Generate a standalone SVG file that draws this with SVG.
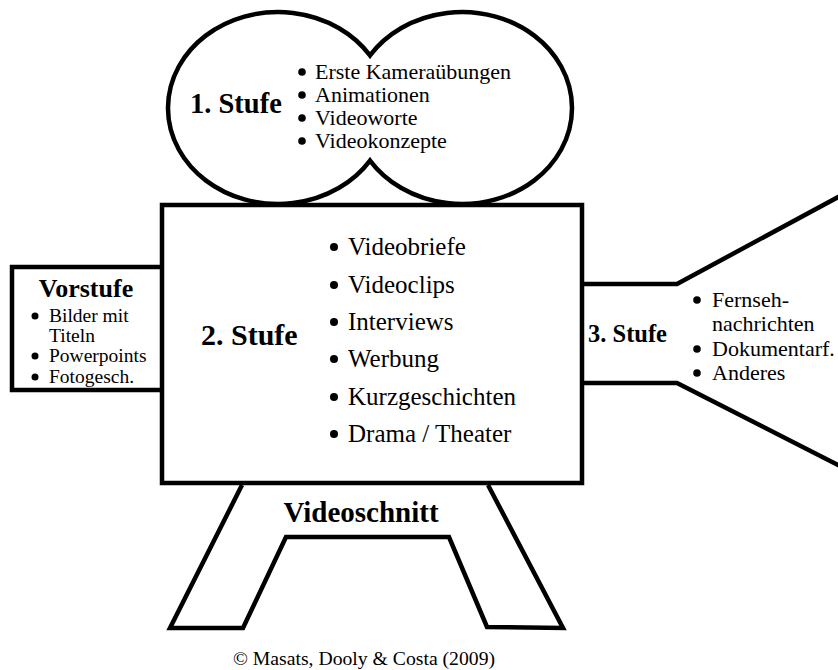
<svg xmlns="http://www.w3.org/2000/svg" width="838" height="670" viewBox="0 0 838 670">
<style>
.ln{fill:none;stroke:#000;stroke-width:4.5;stroke-linejoin:miter}
.sh{fill:#fff;stroke:#000;stroke-width:4.5}
text{font-family:"Liberation Serif","Times New Roman",serif;fill:#000}
.h{font-weight:bold}
.b{fill:#000}
</style>
<rect width="838" height="670" fill="#fff"/>
<g id="stufe1">
<path class="sh" d="M370,55.4 A110,96 0 1,0 370,160.6 A110,96 0 1,0 370,55.4 Z"/>
<text class="h" x="190" y="113" font-size="28.5">1. Stufe</text>
<g font-size="22">
<circle class="b" cx="302" cy="72" r="3.8"/><text x="315" y="79">Erste Kameraübungen</text>
<circle class="b" cx="302" cy="95" r="3.8"/><text x="315" y="102">Animationen</text>
<circle class="b" cx="302" cy="118" r="3.8"/><text x="315" y="125">Videoworte</text>
<circle class="b" cx="302" cy="141" r="3.8"/><text x="315" y="148">Videokonzepte</text>
</g>
</g>
<g id="vorstufe">
<path class="ln" d="M162,267 H12 V390 H162"/>
<text class="h" x="86" y="297" font-size="26" text-anchor="middle">Vorstufe</text>
<g font-size="19.5">
<circle class="b" cx="35" cy="316" r="3.5"/><text x="49" y="322">Bilder mit</text>
<text x="49" y="342">Titeln</text>
<circle class="b" cx="35" cy="356" r="3.5"/><text x="49" y="362">Powerpoints</text>
<circle class="b" cx="35" cy="377" r="3.5"/><text x="49" y="383">Fotogesch.</text>
</g>
</g>
<g id="stufe3">
<path class="ln" d="M582,284 H677 L840,196"/>
<path class="ln" d="M582,383 H677 L840,466"/>
<text class="h" x="588" y="342" font-size="24.5">3. Stufe</text>
<g font-size="22">
<circle class="b" cx="697" cy="300" r="3.8"/><text x="712" y="307">Fernseh-</text>
<text x="712" y="331">nachrichten</text>
<circle class="b" cx="697" cy="349" r="3.8"/><text x="712" y="356">Dokumentarf.</text>
<circle class="b" cx="697" cy="373" r="3.8"/><text x="712" y="380">Anderes</text>
</g>
</g>
<g id="videoschnitt">
<path class="ln" d="M242,485 L170,628 H243 L286,537 H449 L487,627 L563,628 L488,485"/>
<text class="h" x="361" y="522" font-size="29" text-anchor="middle">Videoschnitt</text>
</g>
<g id="stufe2">
<rect class="ln" x="162" y="205" width="420" height="278"/>
<text class="h" x="201" y="345" font-size="30">2. Stufe</text>
<g font-size="25">
<circle class="b" cx="334" cy="247" r="4"/><text x="348" y="255">Videobriefe</text>
<circle class="b" cx="334" cy="285" r="4"/><text x="348" y="293">Videoclips</text>
<circle class="b" cx="334" cy="322" r="4"/><text x="348" y="330">Interviews</text>
<circle class="b" cx="334" cy="359" r="4"/><text x="348" y="367">Werbung</text>
<circle class="b" cx="334" cy="397" r="4"/><text x="348" y="405">Kurzgeschichten</text>
<circle class="b" cx="334" cy="434" r="4"/><text x="348" y="442">Drama / Theater</text>
</g>
</g>
<g id="connectors"></g>
<text id="copyright" x="364" y="665" font-size="19.7" text-anchor="middle">© Masats, Dooly &amp; Costa (2009)</text>
</svg>
